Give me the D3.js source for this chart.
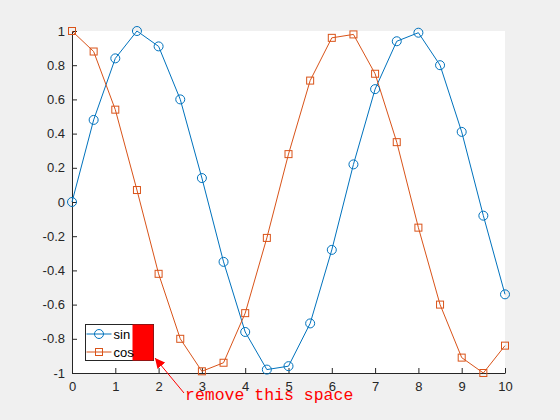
<!DOCTYPE html>
<html>
<head>
<meta charset="utf-8">
<script src="https://cdn.jsdelivr.net/npm/d3@7"></script>
<style>
  body { margin: 0; background: #f0f0f0; }
  svg { display: block; }
  .tick text { font-family: "Liberation Sans", Arial, sans-serif; font-size: 13px; fill: #262626; }
</style>
</head>
<body>
<script>
// values
var xs = [0, 0.5, 1, 1.5, 2, 2.5, 3, 3.5, 4, 4.5, 5, 5.5, 6, 6.5, 7, 7.5, 8, 8.5, 9, 9.5, 10]
var sinVals = [0, 0.48, 0.84, 1.00, 0.91, 0.60, 0.14, -0.35, -0.76, -0.98, -0.96, -0.71, -0.28, 0.22, 0.66, 0.94, 0.99, 0.80, 0.41, -0.08, -0.54]
var cosVals = [1.00, 0.88, 0.54, 0.07, -0.42, -0.80, -0.99, -0.94, -0.65, -0.21, 0.28, 0.71, 0.96, 0.98, 0.75, 0.35, -0.15, -0.60, -0.91, -1.00, -0.84]
var xTicks = [0, 1, 2, 3, 4, 5, 6, 7, 8, 9, 10]
var yTicks = [-1, -0.8, -0.6, -0.4, -0.2, 0, 0.2, 0.4, 0.6, 0.8, 1]
var seriesNames = ['sin', 'cos']
var note = 'remove this space'

var colors = {
  sin: '#0072BD',
  cos: '#D95319'
}

var width = 560, height = 420
var margin = {left: 72, right: 55, top: 31, bottom: 47}

var svg = d3.select('body').append('svg').
  attr('width', width).
  attr('height', height)

var x = d3.scaleLinear().domain([0, 10]).range([margin.left, width - margin.right])
var y = d3.scaleLinear().domain([-1, 1]).range([height - margin.bottom, margin.top])

svg.append('rect').
  attr('x', x(0)).attr('y', y(1)).
  attr('width', x(10) - x(0)).attr('height', y(-1) - y(1)).
  attr('fill', 'white')

var xAxis = svg.append('g').
  attr('transform', 'translate(0,' + y(-1) + ')').
  call(d3.axisBottom(x).tickValues(xTicks).tickSizeInner(-5).tickSizeOuter(0).tickPadding(9))
var yAxis = svg.append('g').
  attr('transform', 'translate(' + x(0) + ',0)').
  call(d3.axisLeft(y).tickValues(yTicks).tickSizeInner(-5).tickSizeOuter(0).tickPadding(7).
    tickFormat(function (d) { return d3.format('')(+d.toFixed(1)).replace('−', '-') }))
svg.selectAll('.domain, .tick line').attr('stroke', '#262626')

var pts = {
  sin: xs.map(function (d, i) { return [d, sinVals[i]] }),
  cos: xs.map(function (d, i) { return [d, cosVals[i]] })
}

var line = d3.line().x(function (d) { return x(d[0]) }).y(function (d) { return y(d[1]) })

seriesNames.forEach(function (name) {
  svg.append('path').
    attr('d', line(pts[name])).
    attr('fill', 'none').
    attr('stroke', colors[name]).
    attr('stroke-width', 1)
})

svg.append('g').selectAll('circle').data(pts.sin).enter().append('circle').
  attr('cx', function (d) { return x(d[0]) }).
  attr('cy', function (d) { return y(d[1]) }).
  attr('r', 4.5).
  attr('fill', 'none').
  attr('stroke', colors.sin)

svg.append('g').selectAll('rect').data(pts.cos).enter().append('rect').
  attr('x', function (d) { return x(d[0]) - 3.5 }).
  attr('y', function (d) { return y(d[1]) - 3.5 }).
  attr('width', 7).attr('height', 7).
  attr('fill', 'none').
  attr('stroke', colors.cos)

// legend
var lg = svg.append('g').attr('transform', 'translate(85.5,324.5)')
lg.append('rect').attr('width', 68).attr('height', 36).attr('fill', 'white').attr('stroke', '#262626')
lg.append('rect').attr('x', 47).attr('y', 0).attr('width', 21).attr('height', 36).attr('fill', '#ff0000')
seriesNames.forEach(function (name, i) {
  var yy = 9.5 + i * 18
  lg.append('line').attr('x1', 1).attr('x2', 26).attr('y1', yy).attr('y2', yy).
    attr('stroke', colors[name])
  if (name === 'sin') {
    lg.append('circle').attr('cx', 13.5).attr('cy', yy).attr('r', 4.5).
      attr('fill', 'none').attr('stroke', colors[name])
  } else {
    lg.append('rect').attr('x', 10).attr('y', yy - 3.5).attr('width', 7).attr('height', 7).
      attr('fill', 'none').attr('stroke', colors[name])
  }
  lg.append('text').attr('x', 28).attr('y', yy + 4.5).text(name).
    attr('font-family', '"Liberation Sans", Arial, sans-serif').
    attr('font-size', 13).attr('fill', '#000')
})

// annotation
svg.append('defs').append('marker').
  attr('id', 'head').
  attr('viewBox', '0 0 10 10').
  attr('refX', 10).attr('refY', 5).
  attr('markerWidth', 10).attr('markerHeight', 10).
  attr('markerUnits', 'userSpaceOnUse').
  attr('orient', 'auto').
  append('path').attr('d', 'M0,0 L10,5 L0,10 Z').attr('fill', '#ff0000')

svg.append('line').
  attr('x1', 184).attr('y1', 393).
  attr('x2', 155).attr('y2', 358).
  attr('stroke', '#ff0000').
  attr('stroke-width', 1).
  attr('marker-end', 'url(#head)')

svg.append('text').
  attr('x', 185).attr('y', 400).
  attr('font-family', '"Liberation Mono", "DejaVu Sans Mono", monospace').
  attr('font-size', 16.5).
  attr('fill', '#ff0000').
  text(note)
</script>
</body>
</html>
